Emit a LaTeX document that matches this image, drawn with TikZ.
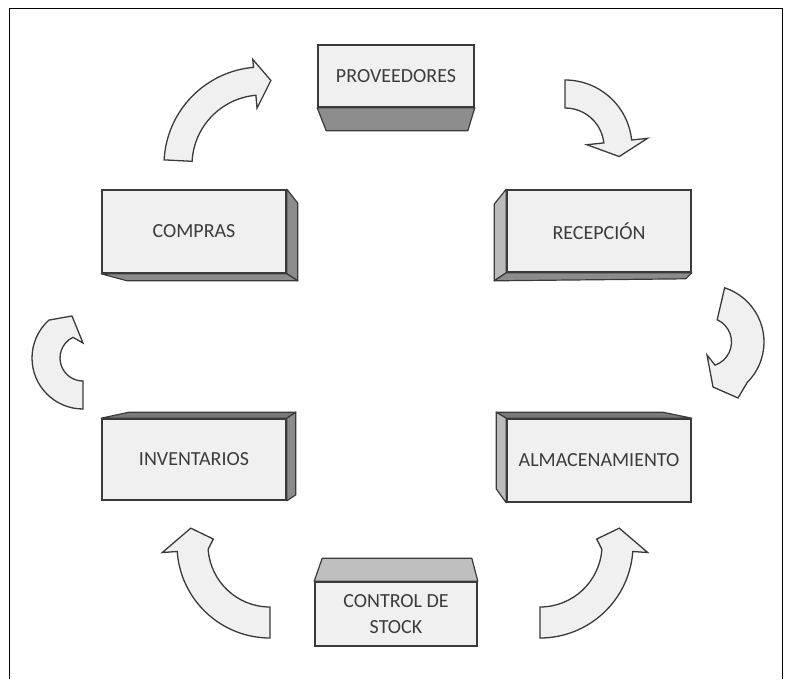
\documentclass[tikz,border=0pt]{standalone}
\usepackage{fontspec}
\setmainfont{Carlito}
\usetikzlibrary{backgrounds,calc}
\definecolor{facec}{HTML}{F0F0F0}
\definecolor{edgec}{HTML}{3A3A3A}
\definecolor{txtc}{HTML}{3C3C3C}
\definecolor{darkside}{HTML}{8C8C8C}
\definecolor{lightside}{HTML}{BBBBBB}
\definecolor{topside}{HTML}{BFBFBF}
\definecolor{topdark}{HTML}{7A7A7A}
\tikzset{
  front/.style={draw=edgec, line width=1.6pt, fill=facec, text=txtc,
    font=\fontsize{20}{24}\selectfont, inner sep=0pt, align=center},
  side/.style={draw=edgec, line width=1.2pt, line join=round},
  blockarrow/.style={draw=edgec, line width=1.3pt, fill=facec, line join=miter},
}
% #1 centre, #2 tail angle, #3 head-base angle, #4 tip angle,
% #5 inner radius, #6 outer radius, #7 inner barb radius, #8 outer barb radius, #9 tip radius
\newcommand\cyclearrow[9]{%
  \begin{scope}[shift={#1}]
    \draw[blockarrow] (#2:#6) arc[start angle=#2, end angle=#3, radius=#6]
      -- (#3:#8) -- (#4:#9) -- (#3:#7) -- (#3:#5)
      arc[start angle=#3, end angle=#2, radius=#5] -- cycle;
  \end{scope}}
\begin{document}
\begin{tikzpicture}[x=1pt,y=-1pt]
\useasboundingbox (0,0) rectangle (791,679);
\draw[line width=1pt] (9,679) -- (9,9) -- (782,9) -- (782,679);

% boxes
\node[front, minimum width=156, minimum height=62] (prov) at (396,76) {PROVEEDORES};
\node[front, minimum width=184, minimum height=83] (comp) at (194,231.5) {COMPRAS};
\node[front, minimum width=184, minimum height=82] (rec) at (599,231) {RECEPCIÓN};
\node[front, minimum width=184, minimum height=81] (inv) at (194,459.5) {INVENTARIOS};
\node[front, minimum width=184, minimum height=83] (alm) at (599,460.5) {ALMACENAMIENTO};
\node[front, minimum width=162, minimum height=64] (ctrl) at (396,614) {CONTROL DE\\[2pt]STOCK};

\begin{scope}[on background layer]
  \fill[white] (0,0) rectangle (791,679);
  \draw[side, fill=darkside] (prov.south west) -- (prov.south east) -- ++(-7,23)
    -- ($(prov.south west)+(9,23)$) -- cycle;
  \draw[side, fill=darkside] (comp.north east) -- ++(11,14) -- ($(comp.south east)+(11,7)$)
    -- (comp.south east) -- cycle;
  \draw[side, fill=darkside] (comp.south west) -- (comp.south east) -- ++(11,7)
    -- ($(comp.south west)+(26,7)$) -- cycle;
  \draw[side, fill=lightside] (rec.north west) -- ++(-12,15) -- ($(rec.south west)+(-12,8)$)
    -- (rec.south west) -- cycle;
  \draw[side, fill=darkside] (rec.south west) -- (rec.south east) -- ++(-6,6)
    -- ($(rec.south west)+(-12,8)$) -- cycle;
  \draw[side, fill=topdark] (inv.north west) -- ++(28,-6) -- ($(inv.north east)+(9,-6)$)
    -- (inv.north east) -- cycle;
  \draw[side, fill=darkside] (inv.north east) -- ++(9,-6) -- ($(inv.south east)+(9,-6)$)
    -- (inv.south east) -- cycle;
  \draw[side, fill=topdark] (alm.north west) -- ++(-10,-6) -- ($(alm.north east)+(-29,-6)$)
    -- (alm.north east) -- cycle;
  \draw[side, fill=lightside] (alm.north west) -- ++(-10,-6) -- ($(alm.south west)+(-10,-14)$)
    -- (alm.south west) -- cycle;
  \draw[side, fill=topside] (ctrl.north west) -- ++(8,-23) -- ($(ctrl.north east)+(-6,-23)$)
    -- (ctrl.north east) -- cycle;
\end{scope}

% curved block arrows
% COMPRAS -> PROVEEDORES
\cyclearrow{(262,165)}{183}{265}{276}{70}{98}{57}{106}{85}
% PROVEEDORES -> RECEPCION
\cyclearrow{(565,147)}{270}{354}{10}{39}{67}{22}{83}{55}
% RECEPCION -> ALMACENAMIENTO
\begin{scope}[shift={(707,342)}]
  \draw[blockarrow] (288:57) arc[start angle=288, end angle=405, radius=57]
    -- (31,56) -- (6,45) -- (0,13) -- (70.8:24.5)
    arc[start angle=70.8, end angle=-65.4, radius=24.5] -- cycle;
\end{scope}
% INVENTARIOS -> COMPRAS
\begin{scope}[shift={(83,358)}]
  \draw[blockarrow] (90:51) arc[start angle=90, end angle=228, radius=51]
    -- (-11,-42) -- (0,-15) -- (244:23)
    arc[start angle=244, end angle=90, radius=23] -- cycle;
\end{scope}
% CONTROL -> INVENTARIOS
\begin{scope}[shift={(270,545)}]
  \draw[blockarrow] (90:93) arc[start angle=90, end angle=176, radius=93]
    -- (176:108) -- (192:81) -- (186:57) -- (176:62)
    arc[start angle=176, end angle=90, radius=62] -- cycle;
\end{scope}
% CONTROL -> ALMACENAMIENTO
\begin{scope}[shift={(540,545)}]
  \draw[blockarrow] (90:93) arc[start angle=90, end angle=4, radius=93]
    -- (4:108) -- (-12:81) -- (-6:57) -- (4:62)
    arc[start angle=4, end angle=90, radius=62] -- cycle;
\end{scope}
\end{tikzpicture}
\end{document}
